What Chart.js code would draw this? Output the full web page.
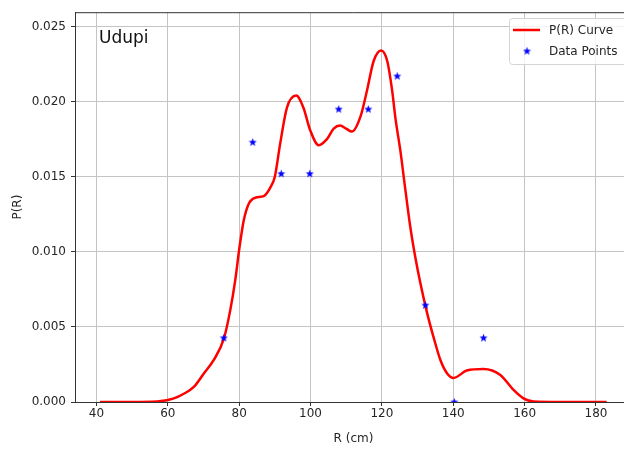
<!DOCTYPE html>
<html>
<head>
<meta charset="utf-8">
<script src="https://cdn.jsdelivr.net/npm/chart.js@4.4.1/dist/chart.umd.min.js"></script>
<style>
	html, body { margin: 0; padding: 0; background: #fff; overflow: hidden; }
	#cardChart { width: 640px; height: 450px; }
</style>
</head>
<body>
<div id="cardChart"><canvas id="myChart" width="640" height="450"></canvas></div>
<script>
// P(R) curve
const curveR = [41, 50, 57, 61.7, 64.5, 67.3, 70.1, 72.9, 75.7, 77.5, 78.9, 80.1, 81.3, 82.7, 84.5, 86.9, 88.8, 90.0,
	91.5, 93.4, 96.0, 98.0, 99.9, 102.3, 104.6, 106.5, 108.3, 110.0, 111.6, 114.0, 115.8, 117.7, 119.8, 121.5, 122.9,
	123.8, 125.2, 126.6, 128.0, 129.4, 130.8, 132.7, 134.5, 136.4, 138.3, 140.1, 143.8, 148.5, 153.2, 156.9, 159.7,
	162.5, 170, 183];
const curveP = [0, 0, 0.00003, 0.00024, 0.00055, 0.0010, 0.0019, 0.0028, 0.0042, 0.0061, 0.0081, 0.0103, 0.0121, 0.0132,
	0.0136, 0.0137, 0.0143, 0.0150, 0.0172, 0.0196, 0.0204, 0.0196, 0.0181, 0.0171, 0.0175, 0.0182, 0.0184, 0.0182,
	0.0180, 0.0190, 0.0207, 0.0227, 0.0234, 0.0227, 0.0207, 0.0189, 0.0167, 0.0141, 0.0116, 0.0096, 0.0079, 0.0059,
	0.0043, 0.0028, 0.0019, 0.0016, 0.0021, 0.0022, 0.0018, 0.0008, 0.00024, 0.00003, 0, 0];

// data points (stars)
const pointR = [75.7, 83.8, 91.8, 99.8, 107.9, 116.2, 124.3, 132.2, 140.3, 148.5];
const pointP = [0.00427, 0.0173, 0.0152, 0.0152, 0.0195, 0.0195, 0.0217, 0.00645, 0, 0.00427];

const xTicks = [40, 60, 80, 100, 120, 140, 160, 180];
const yTicks = [0, 0.005, 0.010, 0.015, 0.020, 0.025];

const curveLabel = 'P(R) Curve';
const pointLabel = 'Data Points';
const placeName = 'Udupi';

const sFont = 'DejaVu Sans';
const tickFont = { family: sFont, size: 12 };
const textColor = '#262626';
const gridColor = '#c4c4c4';
const spineColor = '#333';

function makeStar(size, color) {
	const c = document.createElement('canvas');
	c.width = size;
	c.height = size;
	const g = c.getContext('2d');
	const cx = size / 2, cy = size / 2 + 0.3, ro = size / 2 - 0.2, ri = ro * 0.42;
	g.beginPath();
	for (let i = 0; i < 10; i++) {
		const r = i % 2 ? ri : ro;
		const a = -Math.PI / 2 + i * Math.PI / 5;
		g.lineTo(cx + r * Math.cos(a), cy + r * Math.sin(a));
	}
	g.closePath();
	g.fillStyle = color;
	g.fill();
	return c;
}
const starImg = makeStar(9, '#0000ff');

// top spine, place name and legend box
const extrasPlugin = {
	id: 'extras',
	afterDatasetsDraw(chart) {
		const { ctx, chartArea: a } = chart;
		ctx.save();
		ctx.strokeStyle = spineColor;
		ctx.lineWidth = 1;
		ctx.beginPath();
		ctx.moveTo(a.left, a.top + 0.5);
		ctx.lineTo(a.right, a.top + 0.5);
		ctx.lineTo(a.right - 0.5, a.bottom);
		ctx.stroke();
		ctx.restore();
	},
	afterDraw(chart) {
		const { ctx, chartArea: a } = chart;
		ctx.save();
		ctx.fillStyle = '#111';
		ctx.font = '17px "' + sFont + '"';
		ctx.textBaseline = 'alphabetic';
		ctx.fillText(placeName, a.left + 24, 43);

		// legend
		const bx = 509.5, by = 18.5, bw = 120, bh = 46;
		ctx.beginPath();
		ctx.roundRect(bx, by, bw, bh, 3);
		ctx.fillStyle = 'rgba(255,255,255,0.8)';
		ctx.fill();
		ctx.strokeStyle = '#d4d4d4';
		ctx.lineWidth = 1;
		ctx.stroke();

		const ds = chart.data.datasets;
		ctx.font = '12px "' + sFont + '"';
		ctx.textBaseline = 'middle';
		ctx.fillStyle = textColor;

		ctx.strokeStyle = ds[0].borderColor;
		ctx.lineWidth = 2.5;
		ctx.beginPath();
		ctx.moveTo(513, 30);
		ctx.lineTo(540, 30);
		ctx.stroke();
		ctx.fillText(ds[0].label, 549, 30.5);

		ctx.drawImage(starImg, 527 - starImg.width / 2, 51 - starImg.height / 2);
		ctx.fillText(ds[1].label, 549, 51.5);
		ctx.restore();
	}
};

const ctx = document.getElementById('myChart');

new Chart(ctx, {
	type: 'scatter',
	data: {
		datasets: [{
			label: curveLabel,
			data: curveR.map((r, i) => ({ x: r, y: curveP[i] })),
			showLine: true,
			borderColor: '#ff0000',
			borderWidth: 2.5,
			pointRadius: 0,
			cubicInterpolationMode: 'monotone',
			order: 1
		}, {
			label: pointLabel,
			data: pointR.map((r, i) => ({ x: r, y: pointP[i] })),
			showLine: false,
			pointStyle: starImg,
			pointRadius: 5,
			order: 0
		}]
	},
	options: {
		responsive: false,
		animation: false,
		devicePixelRatio: 1,
		layout: { padding: { top: 10, right: 8, left: 0, bottom: 0 } },
		plugins: {
			legend: { display: false },
			tooltip: { enabled: false }
		},
		scales: {
			x: {
				type: 'linear',
				min: 34,
				max: 190.1,
				afterBuildTicks: s => { s.ticks = xTicks.map(v => ({ value: v })); },
				afterFit: s => { s.height = 48; },
				ticks: { font: tickFont, color: textColor, padding: 1, autoSkip: false, maxRotation: 0, callback: v => String(v) },
				grid: { color: gridColor, lineWidth: 1, tickLength: 4, tickColor: spineColor, drawTicks: true },
				border: { display: true, color: spineColor, width: 1 },
				title: { display: true, text: 'R (cm)', font: tickFont, color: textColor, padding: { top: 0, bottom: 4 } }
			},
			y: {
				type: 'linear',
				min: 0,
				max: 0.02595,
				afterBuildTicks: s => { s.ticks = yTicks.map(v => ({ value: v })); },
				afterFit: s => { s.width = 75; },
				ticks: { font: tickFont, color: textColor, padding: 5, autoSkip: false, callback: v => v.toFixed(3) },
				grid: { color: gridColor, lineWidth: 1, tickLength: 4, tickColor: spineColor, drawTicks: true },
				border: { display: true, color: spineColor, width: 1 },
				title: { display: true, text: 'P(R)', font: tickFont, color: textColor, padding: { top: 11, bottom: 0 } }
			}
		}
	},
	plugins: [extrasPlugin]
});
</script>
</body>
</html>
